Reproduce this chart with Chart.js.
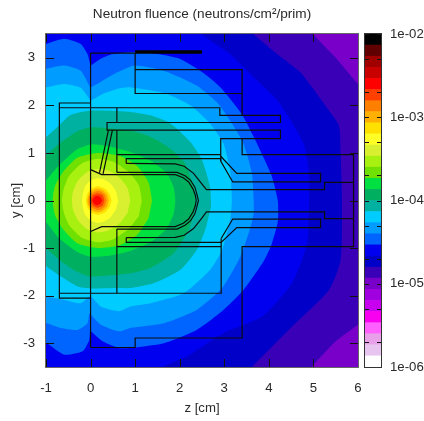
<!DOCTYPE html>
<html>
<head>
<meta charset="utf-8">
<script src="https://cdn.jsdelivr.net/npm/chart.js@4"></script>
<style>
  html, body { margin: 0; background: #fff; }
  #wrap { position: relative; width: 424px; height: 421px; overflow: hidden; }
  canvas { position: absolute; top: 0; }
</style>
</head>
<body>
<div id="wrap">
  <canvas id="map" width="362" height="421" style="left:0"></canvas>
  <canvas id="bar" width="66" height="421" style="left:358px"></canvas>
</div>
<script>
const zTicks = [-1, 0, 1, 2, 3, 4, 5, 6];
const yTicks = [-3, -2, -1, 0, 1, 2, 3];
const barTicks = [1e-6, 2e-6, 5e-6, 1e-5, 2e-5, 5e-5, 1e-4, 2e-4, 5e-4, 1e-3, 2e-3, 5e-3, 1e-2];
const barLabels = { 1e-6: "1e-06", 1e-5: "1e-05", 1e-4: "1e-04", 1e-3: "1e-03", 1e-2: "1e-02" };

// colour band edges, bottom to top of the colour bar
const bandEdges = [1e-6, 1.36e-6, 1.85e-6, 2.51e-6, 3.41e-6, 4.64e-6, 6.31e-6, 8.58e-6, 1.17e-5, 1.58e-5, 2.15e-5,
  2.93e-5, 3.98e-5, 5.41e-5, 7.36e-5, 1e-4, 1.36e-4, 1.85e-4, 2.51e-4, 3.41e-4, 4.64e-4,
  6.31e-4, 8.58e-4, 1.17e-3, 1.58e-3, 2.15e-3, 2.93e-3, 3.98e-3, 5.41e-3, 7.36e-3, 1e-2];
const bandColors = ["#ffffff", "#e8c4f0", "#e8a0e8", "#ff60ff", "#f800f0", "#c800f0", "#a000e0", "#7800c8", "#3a00b8", "#0000c8",
  "#0000f0", "#0064ff", "#009cff", "#00ccff", "#00b0a0", "#00b060", "#00e040", "#70e000", "#a8f010", "#d8f030",
  "#ffff28", "#ffe000", "#ffb000", "#ff8000", "#ff4000", "#ff0000", "#c80000", "#a00000", "#600000", "#000000"];

// iso-fluence contours, [z, y] in cm, lowest level first
const level7 = [[-1.2, 3.7], [6.2, 3.7], [6.2, -3.7], [-1.2, -3.7]];
const level8 = [[-1.2, 3.7], [4.85, 3.7], [4.99, 3.5], [5.5, 3.0], [6.0, 2.45], [6.2, 2.3], [6.2, -2.5], [6.0, -2.61], [5.5, -2.96], [4.97, -3.49], [4.8, -3.7], [-1.2, -3.7]];
const level9 = [[-1.2, 3.7], [3.45, 3.7], [3.69, 3.47], [4.2, 3.07], [4.7, 2.7], [4.97, 2.38], [5.3, 1.95], [5.57, 1.58], [5.61, 0.99], [5.64, 0], [5.61, -1.25], [5.35, -1.88], [4.52, -2.65], [3.63, -3.49], [3.4, -3.7], [-1.2, -3.7]];
const level10 = [[-1.2, 3.7], [2.3, 3.7], [2.53, 3.47], [3.13, 3.08], [3.65, 2.6], [4.22, 2.07], [4.78, 1.2], [4.9, 0.57], [4.9, -0.2], [4.86, -0.9], [4.52, -1.74], [3.85, -2.44], [2.98, -2.79], [2.16, -3.28], [1.64, -3.49], [1.4, -3.7], [-1.2, -3.7]];
const level11 = [[-1.2, 3.2], [-1.0, 3.29], [-0.59, 3.4], [-0.22, 3.29], [-0.07, 3.08], [-0.01, 2.87], [0.0, 2.84], [0.23, 2.98], [0.46, 3.07], [1, 3.12], [1.5, 3.08], [2, 2.98], [2.5, 2.7], [2.91, 2.38], [3.39, 1.82], [3.66, 1.34], [4.05, 0.55], [4.2, 0], [4.2, -0.45], [4.05, -0.95], [3.88, -1.28], [3.43, -1.88], [2.98, -2.3], [2.38, -2.72], [1.64, -3.0], [0.89, -3.1], [0.64, -3.1], [0.27, -2.96], [0.01, -2.75], [-0.01, -2.72], [-0.03, -2.93], [-0.18, -3.17], [-0.59, -3.24], [-0.98, -3.0], [-1.2, -2.9]];
const level12 = [[-1.2, 2.7], [-1.0, 2.77], [-0.59, 2.84], [-0.22, 2.73], [-0.03, 2.42], [0, 2.38], [0.27, 2.52], [0.61, 2.7], [1, 2.84], [1.64, 2.73], [2.38, 2.42], [2.83, 2.07], [3.13, 1.68], [3.43, 1.2], [3.62, 0.57], [3.66, 0], [3.66, -0.27], [3.58, -0.59], [3.36, -1.18], [2.95, -1.84], [2.38, -2.3], [1.64, -2.58], [0.89, -2.68], [0.64, -2.75], [0.23, -2.61], [0.01, -2.4], [-0.03, -2.37], [-0.07, -2.58], [-0.29, -2.72], [-0.66, -2.68], [-0.98, -2.58], [-1.2, -2.5]];
const level13 = [[-1.2, 2.3], [-0.98, 2.38], [-0.59, 2.45], [-0.22, 2.37], [-0.03, 2.14], [0, 2.1], [0.27, 2.24], [0.61, 2.35], [0.89, 2.38], [1.71, 2.24], [2.24, 2.0], [2.68, 1.62], [2.98, 1.2], [3.13, 0.64], [3.17, 0], [3.13, -0.41], [2.95, -1.04], [2.68, -1.46], [2.09, -1.95], [1.34, -2.16], [0.89, -2.23], [0.64, -2.33], [0.23, -2.23], [0.05, -2.05], [0, -2.02], [-0.03, -2.02], [-0.22, -2.16], [-0.59, -2.09], [-0.98, -2.02], [-1.2, -1.95]];
const level14 = [[-1.2, 1.2], [-1, 1.33], [-0.7, 1.58], [-0.46, 1.79], [0, 1.89], [0.59, 1.88], [0.89, 1.86], [1.34, 1.79], [1.79, 1.62], [2.24, 1.23], [2.5, 0.85], [2.68, 0.29], [2.7, 0], [2.7, -0.13], [2.57, -0.62], [2.38, -1.04], [2.01, -1.46], [1.41, -1.74], [0.89, -1.84], [0.61, -1.84], [0, -1.85], [-0.29, -1.81], [-0.66, -1.6], [-0.98, -1.39], [-1.2, -1.2]];
const level15 = [[-1.2, 0.8], [-1, 0.95], [-0.7, 1.2], [-0.3, 1.45], [0, 1.54], [0.89, 1.47], [1.34, 1.34], [1.79, 1.09], [2.12, 0.78], [2.31, 0.29], [2.35, 0], [2.35, -0.13], [2.2, -0.62], [1.86, -1.11], [1.34, -1.42], [0.89, -1.53], [0, -1.6], [-0.3, -1.5], [-0.7, -1.25], [-1, -1.0], [-1.2, -0.8]];
const level16 = [[-1.2, 0.25], [-1, 0.42], [-0.7, 0.75], [-0.3, 1.08], [0, 1.18], [0.4, 1.14], [0.89, 1.02], [1.34, 0.84], [1.71, 0.57], [1.86, 0.29], [1.9, 0], [1.86, -0.29], [1.7, -0.6], [1.34, -0.88], [0.89, -1.06], [0.4, -1.16], [0, -1.18], [-0.3, -1.08], [-0.7, -0.8], [-1, -0.45], [-1.2, -0.25]];
const level17 = [[1.38, 0], [1.3, 0.38], [1.05, 0.72], [0.65, 0.94], [0.16, 1.0], [-0.3, 0.9], [-0.62, 0.6], [-0.8, 0.3], [-0.85, 0], [-0.8, -0.3], [-0.62, -0.6], [-0.3, -0.9], [0.16, -1.0], [0.65, -0.94], [1.05, -0.72], [1.3, -0.38]];
const level18 = [[1.15, 0], [1.08, 0.33], [0.85, 0.6], [0.5, 0.82], [0.16, 0.88], [-0.2, 0.78], [-0.48, 0.52], [-0.6, 0.25], [-0.64, 0], [-0.6, -0.25], [-0.48, -0.52], [-0.2, -0.78], [0.16, -0.88], [0.5, -0.82], [0.85, -0.6], [1.08, -0.33]];
const level19 = [[0.89, 0], [0.83, 0.26], [0.65, 0.48], [0.4, 0.63], [0.16, 0.67], [-0.08, 0.6], [-0.28, 0.42], [-0.39, 0.2], [-0.42, 0], [-0.39, -0.2], [-0.28, -0.42], [-0.08, -0.6], [0.16, -0.67], [0.4, -0.63], [0.65, -0.48], [0.83, -0.26]];
const level20 = [[0.62, 0], [0.57, 0.19], [0.45, 0.35], [0.3, 0.44], [0.16, 0.47], [0, 0.42], [-0.12, 0.3], [-0.17, 0.15], [-0.19, 0], [-0.17, -0.15], [-0.12, -0.3], [0, -0.42], [0.16, -0.47], [0.3, -0.44], [0.45, -0.35], [0.57, -0.19]];
const level21 = [[0.47, 0], [0.43, 0.13], [0.34, 0.24], [0.16, 0.3], [0.02, 0.25], [-0.07, 0.14], [-0.1, 0], [-0.07, -0.14], [0.02, -0.25], [0.16, -0.3], [0.34, -0.24], [0.43, -0.13]];
const level22 = [[0.41, 0], [0.37, 0.13], [0.27, 0.22], [0.14, 0.25], [0.02, 0.2], [-0.05, 0.1], [-0.07, 0], [-0.05, -0.1], [0.02, -0.2], [0.14, -0.25], [0.27, -0.22], [0.37, -0.13]];
const level23 = [[0.36, 0], [0.32, 0.12], [0.23, 0.19], [0.14, 0.2], [0.04, 0.16], [-0.03, 0.08], [-0.04, 0], [-0.03, -0.08], [0.04, -0.16], [0.14, -0.2], [0.23, -0.19], [0.32, -0.12]];
const level24 = [[0.31, 0], [0.27, 0.11], [0.16, 0.15], [0.05, 0.11], [0, 0], [0.05, -0.11], [0.16, -0.15], [0.27, -0.11]];
const level25 = [[0.26, 0], [0.22, 0.07], [0.15, 0.1], [0.08, 0.07], [0.04, 0], [0.08, -0.07], [0.15, -0.1], [0.22, -0.07]];
// each contour with the index of the band it starts
const contours = [[7, level7], [8, level8], [9, level9], [10, level10], [11, level11], [12, level12], [13, level13], [14, level14], [15, level15],
  [16, level16], [17, level17], [18, level18], [19, level19], [20, level20], [21, level21], [22, level22], [23, level23], [24, level24], [25, level25]];

// target geometry outlines
const planeLine = [[0, 3.1], [0, -3.09]];
const topShell = [[0, 3.1], [1, 3.1], [1, 2.25], [3.4, 2.25]];
const topBlock = [[1, 2.75], [3.4, 2.75], [3.4, 1.79]];
const leftBox = [[0, 2.05], [-0.7, 2.05], [-0.7, -2.05], [0, -2.05]];
const collar = [[-0.7, 1.95], [2.9, 1.95], [2.9, 1.79], [4.26, 1.79], [4.26, 1.64], [0.37, 1.64], [0.37, 1.48], [4.26, 1.48], [4.26, 1.3], [2.92, 1.3], [2.92, 0.83]];
const lowerRun = [[-0.7, -1.95], [2.93, -1.95], [2.93, -0.8]];
const postTop = [[0.59, 1.95], [0.59, 1.64]];
const postMid = [[0.59, 1.48], [0.59, 0.59]];
const postLow = [[0.59, -0.6], [0.59, -1.95]];
const rearTop = [[3.4, 1.3], [3.4, 0.965], [5.9, 0.965], [5.9, -0.97], [3.4, -0.97], [3.4, -2.89], [1, -2.89], [1, -3.09], [0, -3.09]];
const midLineTop = [[0.59, 0.965], [2.92, 0.965]];
const midLineLow = [[0.59, -0.97], [2.93, -0.97]];
const channelTop = [[0.8, 0.78], [0.8, 0.88], [2.92, 0.88], [2.92, 0.83], [3.19, 0.39], [5.16, 0.39], [5.16, 0.57], [3.28, 0.57], [2.92, 0.93]];
const channelLow = [[0.8, -0.78], [0.8, -0.88], [2.93, -0.88], [3.28, -0.57], [5.16, -0.57], [5.16, -0.39], [3.19, -0.39], [2.93, -0.8]];
const sleeve = [[0.8, 0.78], [1.9, 0.77], [2.1, 0.72], [2.31, 0.57], [2.47, 0.38], [2.6, 0.23], [5.25, 0.23], [5.25, 0.38], [5.9, 0.38]];
const sleeveLow = [[0.8, -0.78], [1.9, -0.775], [2.1, -0.73], [2.31, -0.59], [2.47, -0.4], [2.6, -0.24], [5.25, -0.24], [5.25, -0.38], [5.9, -0.38]];
const cupOuter = [[0.59, 0.59], [1.94, 0.59], [2.12, 0.52], [2.24, 0.43], [2.34, 0.28], [2.38, 0.15], [2.42, 0], [2.38, -0.15], [2.34, -0.28], [2.24, -0.43], [2.12, -0.52], [1.94, -0.6], [0.59, -0.6]];
const cupInner = [[0, 0.65], [0.25, 0.545], [1.9, 0.545], [2.08, 0.48], [2.2, 0.39], [2.3, 0.24], [2.35, 0.11], [2.37, 0], [2.35, -0.11], [2.3, -0.24], [2.2, -0.39], [2.08, -0.48], [1.9, -0.55], [0.25, -0.55], [0, -0.65]];
const windowOuter = [[0.4, 1.48], [0.2, 0.58]];
const windowInner = [[0.49, 1.48], [0.28, 0.56]];
const outlines = [planeLine, topShell, topBlock, leftBox, collar, lowerRun, postTop, postMid, postLow, rearTop, midLineTop, midLineLow,
  channelTop, channelLow, sleeve, sleeveLow, cupOuter, cupInner, windowOuter, windowInner];
const heavyBar = [[1, 3.12], [2.5, 3.12]];

const toPoints = (pts) => pts.map(([x, y]) => ({ x, y }));
const textFont = { family: "'Liberation Sans', Arial, sans-serif", size: 13.2 };
const textColor = "#2a2a2a";

// gnuplot style frame with ticks pointing inward on every side
const insideTicks = {
  id: "insideTicks",
  afterDatasetsDraw(chart, _args, opts) {
    const { ctx, chartArea: a, scales } = chart;
    ctx.save();
    ctx.strokeStyle = "#111";
    ctx.lineWidth = 1;
    ctx.beginPath();
    (opts.horizontal ? scales.x.ticks : []).forEach((t) => {
      const p = Math.round(scales.x.getPixelForValue(t.value)) + 0.5;
      ctx.moveTo(p, a.bottom);
      ctx.lineTo(p, a.bottom - opts.length);
      ctx.moveTo(p, a.top);
      ctx.lineTo(p, a.top + opts.length);
    });
    scales.y.ticks.forEach((t) => {
      const p = Math.round(scales.y.getPixelForValue(t.value)) + 0.5;
      ctx.moveTo(a.left, p);
      ctx.lineTo(a.left + opts.length, p);
      ctx.moveTo(a.right, p);
      ctx.lineTo(a.right - opts.length, p);
    });
    ctx.stroke();
    ctx.strokeStyle = opts.frame;
    ctx.strokeRect(a.left - 0.5, a.top - 0.5, a.width + 1, a.height + 1);
    ctx.restore();
  },
};

new Chart(document.getElementById("map"), {
  type: "scatter",
  plugins: [insideTicks],
  data: {
    datasets: [
      ...outlines.map((line) => ({
        data: toPoints(line),
        showLine: true,
        borderColor: "#0c0c0c",
        borderWidth: 1.2,
        pointRadius: 0,
        order: 0,
      })),
      {
        data: toPoints(heavyBar),
        showLine: true,
        borderColor: "#000",
        borderWidth: 3.5,
        pointRadius: 0,
        order: 0,
      },
      ...contours.map(([band, pts]) => ({
        data: toPoints(pts),
        showLine: true,
        fill: "shape",
        backgroundColor: bandColors[band],
        borderColor: bandColors[band],
        borderWidth: 0,
        tension: 0.2,
        pointRadius: 0,
        order: 100 - band,
      })),
    ],
  },
  options: {
    responsive: false,
    animation: false,
    layout: { padding: { right: 4 } },
    plugins: {
      legend: { display: false },
      tooltip: { enabled: false },
      title: {
        display: true,
        text: "Neutron fluence (neutrons/cm²/prim)",
        fullSize: false,
        font: { family: textFont.family, size: 13.6, weight: "normal" },
        color: textColor,
        padding: { top: 6, bottom: 11.7 },
      },
      insideTicks: { horizontal: true, length: 8, frame: "#666" },
    },
    scales: {
      x: {
        type: "linear",
        min: -1,
        max: 6,
        grid: { display: false, drawTicks: false },
        border: { display: false },
        afterBuildTicks: (s) => { s.ticks = zTicks.map((value) => ({ value })); },
        afterFit: (s) => { s.height = 54; s.paddingLeft = 0; s.paddingRight = 0; },
        ticks: { color: textColor, font: textFont, padding: 13, maxRotation: 0, callback: (v) => String(v) },
        title: { display: true, text: "z [cm]", color: textColor, font: textFont, padding: { top: 0, bottom: 5 } },
      },
      y: {
        type: "linear",
        min: -3.5,
        max: 3.5,
        grid: { display: false, drawTicks: false },
        border: { display: false },
        afterBuildTicks: (s) => { s.ticks = yTicks.map((value) => ({ value })); },
        afterFit: (s) => { s.width = 46; s.paddingTop = 0; s.paddingBottom = 0; },
        ticks: { color: textColor, font: textFont, padding: 11, callback: (v) => String(v) },
        title: { display: true, text: "y [cm]", color: textColor, font: textFont, padding: { top: 8, bottom: 0 } },
      },
    },
  },
});

new Chart(document.getElementById("bar"), {
  type: "bar",
  plugins: [insideTicks],
  data: {
    labels: ["fluence"],
    datasets: bandColors.map((color, i) => ({
      data: [[bandEdges[i], bandEdges[i + 1]]],
      backgroundColor: color,
      borderWidth: 0,
      grouped: false,
      barPercentage: 1,
      categoryPercentage: 1,
    })),
  },
  options: {
    responsive: false,
    animation: false,
    layout: { padding: { left: 7, top: 34, bottom: 54 } },
    plugins: {
      legend: { display: false },
      tooltip: { enabled: false },
      insideTicks: { horizontal: false, length: 4, frame: "#333" },
    },
    scales: {
      x: { display: false },
      y: {
        type: "logarithmic",
        position: "right",
        min: 1e-6,
        max: 1e-2,
        grid: { display: false, drawTicks: false },
        border: { display: false },
        afterBuildTicks: (s) => { s.ticks = barTicks.map((value) => ({ value })); },
        afterFit: (s) => { s.width = 43; s.paddingTop = 0; s.paddingBottom = 0; },
        ticks: { color: textColor, font: textFont, padding: 9, autoSkip: false, callback: (v) => barLabels[v] || "" },
      },
    },
  },
});
</script>
</body>
</html>
